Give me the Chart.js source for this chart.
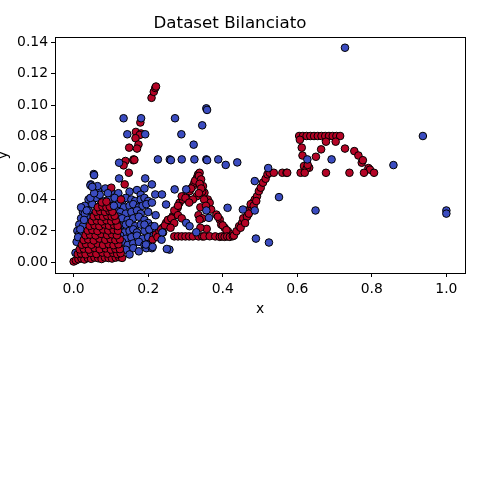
<!DOCTYPE html>
<html>
<head>
<meta charset="utf-8">
<title>Dataset Bilanciato</title>
<script src="https://cdn.jsdelivr.net/npm/chart.js@4"></script>
<style>
  html, body { margin: 0; padding: 0; background: #fff; }
  #wrap { width: 480px; height: 480px; }
</style>
</head>
<body>
<div id="wrap"><canvas id="chart" width="480" height="480"></canvas></div>
<script>
// ── Data ──────────────────────────────────────────────────────
const xTicks = [0.0, 0.2, 0.4, 0.6, 0.8, 1.0];
const yTicks = [0.00, 0.02, 0.04, 0.06, 0.08, 0.10, 0.12, 0.14];

// class 0 (blue), dense cluster near the origin
const blueCluster = [
    [0.065,0.046],[0.085,0.047],[0.10,0.045],[0.12,0.044],[0.15,0.045],[0.17,0.046],[0.19,0.047],[0.18,0.043],
    [0.04,0.040],[0.06,0.041],[0.08,0.039],[0.095,0.040],[0.11,0.041],[0.13,0.039],[0.14,0.041],[0.155,0.040],[0.165,0.039],[0.18,0.040],[0.19,0.041],[0.20,0.039],
    [0.03,0.036],[0.05,0.037],[0.07,0.036],[0.09,0.035],[0.105,0.036],[0.12,0.037],[0.135,0.035],[0.15,0.036],[0.16,0.037],[0.175,0.035],[0.185,0.036],[0.195,0.037],[0.21,0.038],
    [0.025,0.032],[0.04,0.033],[0.065,0.032],[0.10,0.031],[0.115,0.033],[0.125,0.032],[0.14,0.031],[0.155,0.032],[0.17,0.033],[0.18,0.031],[0.20,0.032],[0.22,0.030],
    [0.02,0.028],[0.035,0.029],[0.09,0.028],[0.11,0.027],[0.12,0.029],[0.13,0.028],[0.145,0.027],[0.16,0.028],[0.175,0.029],[0.19,0.027],
    [0.015,0.024],[0.025,0.023],[0.10,0.024],[0.115,0.025],[0.125,0.023],[0.14,0.024],[0.15,0.025],[0.165,0.023],[0.18,0.024],[0.20,0.025],[0.21,0.023],
    [0.01,0.020],[0.015,0.018],[0.11,0.020],[0.12,0.021],[0.135,0.019],[0.15,0.020],[0.16,0.021],[0.17,0.019],[0.19,0.020],[0.205,0.021],[0.22,0.019],
    [0.008,0.013],[0.11,0.016],[0.125,0.017],[0.14,0.015],[0.155,0.016],[0.17,0.017],[0.185,0.015],[0.20,0.016],[0.215,0.017],
    [0.115,0.012],[0.13,0.013],[0.145,0.011],[0.16,0.012],[0.175,0.013],[0.19,0.011],[0.205,0.012],
    [0.12,0.009],[0.14,0.008],[0.16,0.009],[0.175,0.007],[0.195,0.009],[0.21,0.009],
    [0.125,0.006],[0.15,0.005],[0.005,0.006],[0.03,0.031],[0.045,0.041],[0.07,0.043],[0.02,0.035],
    [0.012,0.016],[0.018,0.021],[0.028,0.027],[0.035,0.033],[0.046,0.0496],[0.064,0.0485],[0.055,0.044]
];

// class 1 (red), leaning wedge near the origin
const redWedge = [
    [0.0,0.0005],[0.006,0.0012],[0.013,0.002],[0.021,0.0025],[0.029,0.0018],[0.038,0.0028],[0.047,0.0022],[0.056,0.003],
    [0.066,0.0026],[0.075,0.0021],[0.084,0.003],[0.094,0.0027],[0.103,0.0024],[0.113,0.003],[0.122,0.0033],[0.13,0.0028],
    [0.011,0.0052],[0.02,0.0056],[0.032,0.0051],[0.046,0.006],[0.061,0.0053],[0.077,0.0062],[0.091,0.0055],[0.106,0.006],[0.117,0.0052],[0.126,0.0058],
    [0.016,0.0082],[0.027,0.0087],[0.041,0.0081],[0.056,0.0092],[0.07,0.0083],[0.086,0.0089],[0.10,0.0081],[0.112,0.0086],[0.124,0.0084],
    [0.022,0.0112],[0.033,0.0117],[0.048,0.0112],[0.064,0.0119],[0.079,0.011],[0.094,0.0116],[0.107,0.0109],[0.12,0.0115],
    [0.027,0.0142],[0.039,0.0146],[0.054,0.0139],[0.069,0.0151],[0.085,0.0143],[0.099,0.0148],[0.112,0.0141],[0.124,0.0146],
    [0.032,0.0172],[0.044,0.0176],[0.059,0.0171],[0.074,0.0181],[0.09,0.0173],[0.103,0.0178],[0.116,0.0172],
    [0.038,0.0202],[0.05,0.0206],[0.064,0.0199],[0.079,0.0209],[0.093,0.0202],[0.107,0.0207],[0.119,0.0201],
    [0.043,0.0232],[0.056,0.0236],[0.069,0.023],[0.083,0.0241],[0.095,0.0233],[0.108,0.0238],[0.118,0.0231],
    [0.049,0.0262],[0.062,0.0266],[0.075,0.026],[0.088,0.0268],[0.101,0.0261],[0.113,0.0266],
    [0.054,0.0292],[0.066,0.0296],[0.079,0.029],[0.09,0.0297],[0.102,0.0291],[0.11,0.0296],
    [0.06,0.0322],[0.071,0.0326],[0.084,0.0321],[0.096,0.0327],[0.104,0.0322],
    [0.065,0.035],[0.077,0.0356],[0.088,0.0349],[0.097,0.0354],
    [0.076,0.0381],[0.088,0.0386],
    [0.101,0.0475],[0.127,0.040],[0.137,0.0496]
];

// class 1 (red), scattered column near x = 0.13..0.22
const redColumn = [
    [0.209,0.1047],[0.215,0.1085],[0.219,0.111],[0.221,0.1119],
    [0.179,0.089],[0.167,0.083],[0.181,0.082],[0.177,0.081],[0.166,0.079],[0.174,0.075],[0.149,0.073],[0.170,0.0724],
    [0.161,0.0655],[0.160,0.065],[0.163,0.0652],[0.139,0.0645],[0.134,0.0617],[0.148,0.057]
];

// class 1 (red), the "Λ", the "V" and the plateaus
const redRidge = [
    [0.212,0.0145],[0.221,0.0177],[0.230,0.0198],[0.239,0.022],[0.248,0.0251],[0.257,0.0272],[0.266,0.0294],[0.275,0.0315],[0.279,0.0347],
    [0.284,0.0379],[0.293,0.040],[0.302,0.0432],[0.311,0.0453],[0.320,0.0485],[0.324,0.0507],[0.331,0.0539],[0.334,0.056],[0.338,0.057],
    [0.225,0.016],[0.235,0.021],[0.245,0.0235],[0.253,0.027],[0.262,0.028],[0.27,0.033],[0.28,0.036],[0.29,0.042],[0.30,0.041],
    [0.315,0.047],[0.326,0.052],[0.336,0.055],[0.24,0.019],[0.27,0.025],[0.28,0.030],[0.29,0.028],[0.26,0.022],
    [0.342,0.0528],[0.347,0.0485],[0.351,0.0443],[0.360,0.040],[0.365,0.0379],[0.369,0.0336],[0.383,0.0304],[0.392,0.0272],
    [0.396,0.024],[0.405,0.022],[0.414,0.0198],[0.423,0.0177],[0.387,0.029],[0.40,0.0235],[0.41,0.0205],
    [0.338,0.050],[0.345,0.045],[0.35,0.040],[0.34,0.035],[0.335,0.030],[0.345,0.028],[0.338,0.0272],[0.357,0.0213],
    [0.34,0.022],[0.33,0.042],[0.32,0.040],[0.31,0.038],[0.355,0.036],[0.342,0.047],[0.336,0.044],
    [0.27,0.0165],[0.28,0.0165],[0.29,0.0165],[0.30,0.0165],[0.31,0.0165],[0.32,0.0165],[0.335,0.0165],[0.345,0.0165],[0.35,0.0165],
    [0.365,0.0166],[0.38,0.0165],[0.392,0.0162],[0.398,0.0165],[0.405,0.0162],[0.412,0.0165],[0.419,0.0162],[0.427,0.0166],[0.43,0.017],
    [0.437,0.0198],[0.444,0.023],[0.452,0.0251],[0.459,0.0272],[0.468,0.0304],[0.472,0.0336],[0.477,0.0353],[0.481,0.0379],
    [0.486,0.040],[0.492,0.0421],[0.497,0.0453],[0.502,0.0475],[0.508,0.0507],[0.515,0.0532],[0.520,0.056],
    [0.455,0.028],[0.465,0.029],[0.475,0.037],[0.483,0.036],[0.49,0.039],[0.47,0.031],[0.448,0.022],[0.46,0.025],
    [0.526,0.057],[0.537,0.057],[0.560,0.057],[0.571,0.057],[0.573,0.057]
];

const redPlateau = [
    [0.605,0.0804],[0.615,0.0804],[0.625,0.0804],[0.635,0.0804],[0.645,0.0804],[0.655,0.0804],
    [0.665,0.0804],[0.675,0.0804],[0.685,0.0804],[0.695,0.0804],[0.705,0.0804],[0.715,0.0804],
    [0.607,0.078],[0.677,0.0768],[0.703,0.0768],
    [0.612,0.073],[0.664,0.0719],[0.728,0.0724],[0.753,0.0708],[0.764,0.068],[0.614,0.068],[0.650,0.0672],
    [0.773,0.0634],[0.776,0.065],[0.618,0.0613],[0.632,0.0602],[0.625,0.0596],[0.628,0.062],
    [0.791,0.060],[0.795,0.059],[0.806,0.057],[0.779,0.057],[0.740,0.057],[0.677,0.057],[0.609,0.057],[0.620,0.057]
];

// class 0 (blue), scattered points drawn on top
const blueOutliers = [
    [0.728,0.1366],[0.937,0.0804],[0.858,0.0619],[1.0,0.033],[1.0,0.031],[0.649,0.033],[0.551,0.0415],
    [0.524,0.0126],[0.489,0.0151],[0.522,0.060],[0.486,0.0517],[0.413,0.0347],[0.454,0.0336],[0.486,0.033],
    [0.692,0.0655],[0.627,0.0655],[0.356,0.098],[0.358,0.097],[0.345,0.0872],[0.272,0.0917],[0.289,0.0815],[0.322,0.0749],
    [0.226,0.0655],[0.258,0.0655],[0.261,0.065],[0.290,0.0655],[0.324,0.0655],[0.356,0.0655],[0.358,0.065],[0.388,0.0655],
    [0.408,0.062],[0.439,0.0636],[0.134,0.0917],[0.181,0.0917],[0.144,0.0815],[0.192,0.0815],[0.122,0.0634],
    [0.054,0.0562],[0.055,0.0555],[0.045,0.049],[0.050,0.048],[0.192,0.0534],[0.210,0.0496],[0.122,0.0534],
    [0.219,0.0432],[0.237,0.0432],[0.271,0.0464],[0.248,0.0368],[0.302,0.0464],[0.302,0.0251],[0.363,0.0283],
    [0.356,0.033],[0.311,0.023],[0.257,0.0081],[0.25,0.0085],[0.194,0.0113],[0.212,0.0098],
    [0.19,0.024],[0.203,0.0209],[0.217,0.023],[0.238,0.019],[0.236,0.0144],[0.329,0.0191],
    [0.108,0.036],[0.092,0.044]
];

// ── Helpers ───────────────────────────────────────────────────
const FONT  = 'DejaVu Sans';
const BLUE  = '#3b4cc0';
const RED   = '#b40426';
const toPts = arr => arr.map(p => ({ x: p[0], y: p[1] }));

function scatterSet(label, pts, color, order) {
    return {
        label: label,
        data: toPts(pts),
        backgroundColor: color,
        borderColor: '#000',
        borderWidth: 1,
        pointRadius: 3.8,
        pointHoverRadius: 3.8,
        order: order
    };
}

// frame round the plot area (matplotlib spines)
const framePlugin = {
    id: 'frame',
    afterDatasetsDraw(chart) {
        const { ctx, chartArea: a } = chart;
        ctx.save();
        ctx.strokeStyle = '#000';
        ctx.lineWidth = 1;
        ctx.strokeRect(Math.round(a.left) + 0.5, Math.round(a.top) + 0.5,
                       Math.round(a.right - a.left), Math.round(a.bottom - a.top));
        ctx.restore();
    }
};

// ── Chart ─────────────────────────────────────────────────────
new Chart(document.getElementById('chart').getContext('2d'), {
    type: 'scatter',
    data: {
        datasets: [
            scatterSet('blue-top', blueOutliers, BLUE, 1),
            scatterSet('red-plateau', redPlateau, RED, 2),
            scatterSet('red-ridge', redRidge, RED, 2),
            scatterSet('red-column', redColumn, RED, 2),
            scatterSet('red-wedge', redWedge, RED, 3),
            scatterSet('blue-cluster', blueCluster, BLUE, 4)
        ]
    },
    options: {
        responsive: false,
        animation: false,
        devicePixelRatio: 1,
        layout: { padding: { left: -5, right: 15, top: 0, bottom: 162 } },
        plugins: {
            legend: { display: false },
            tooltip: { enabled: false },
            title: {
                display: true,
                text: 'Dataset Bilanciato',
                color: '#000',
                font: { family: FONT, size: 16.7, weight: 'normal' },
                padding: { top: 13.5, bottom: 3.5 }
            }
        },
        scales: {
            x: {
                type: 'linear',
                min: -0.05,
                max: 1.05,
                afterBuildTicks: s => { s.ticks = xTicks.map(v => ({ value: v })); },
                afterFit: s => { s.height = 45; },
                ticks: { color: '#000', font: { family: FONT, size: 13.9 }, padding: 4,
                         maxRotation: 0, callback: v => Number(v).toFixed(1) },
                grid: { drawOnChartArea: false, drawTicks: true, tickLength: 4, color: '#000' },
                border: { display: false },
                title: { display: true, text: 'x', color: '#000',
                         font: { family: FONT, size: 13.9 }, padding: { top: 0, bottom: 0 } }
            },
            y: {
                type: 'linear',
                min: -0.0068,
                max: 0.1434,
                afterBuildTicks: s => { s.ticks = yTicks.map(v => ({ value: v })); },
                afterFit: s => { s.width = 60; },
                ticks: { color: '#000', font: { family: FONT, size: 13.9 }, padding: 3,
                         callback: v => Number(v).toFixed(2) },
                grid: { drawOnChartArea: false, drawTicks: true, tickLength: 4, color: '#000' },
                border: { display: false },
                title: { display: true, text: 'y', color: '#000',
                         font: { family: FONT, size: 13.9 }, padding: { top: 0, bottom: 0 } }
            }
        }
    },
    plugins: [framePlugin]
});
</script>
</body>
</html>
